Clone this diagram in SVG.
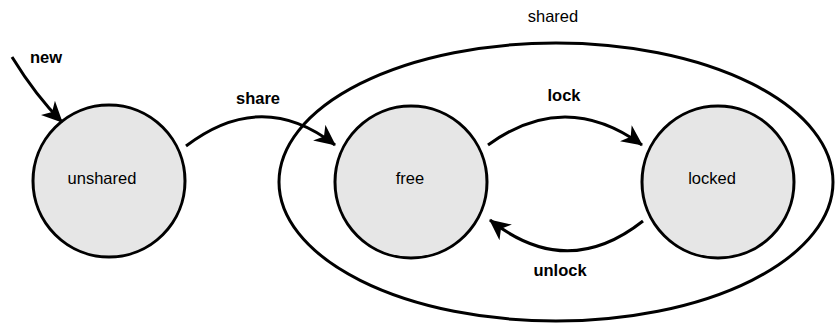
<svg xmlns="http://www.w3.org/2000/svg" width="836" height="323" viewBox="0 0 836 323">
<defs>
<style>
.state{fill:#e6e6e6;stroke:#000;stroke-width:3}
.region{fill:none;stroke:#000;stroke-width:3}
.edge{fill:none;stroke:#000;stroke-width:3;marker-end:url(#arrow)}
text{font-family:"Liberation Sans",Arial,sans-serif;font-size:16.5px;fill:#000;text-anchor:middle}
.lbl{font-weight:bold}
</style>
<marker id="arrow" markerUnits="userSpaceOnUse" markerWidth="22" markerHeight="20" viewBox="0 0 22 20" refX="20" refY="10" orient="auto">
<path d="M0,0 L21,10 L0,20 L6,10 Z" fill="#000"/>
</marker>
</defs>
<g id="shared">
<ellipse class="region" cx="556" cy="182" rx="277" ry="139"/>
<text x="553" y="22">shared</text>
</g>
<g id="unshared">
<circle class="state" cx="109" cy="181" r="76"/>
<text x="102" y="184">unshared</text>
</g>
<g id="free">
<circle class="state" cx="411" cy="182" r="76"/>
<text x="410" y="184">free</text>
</g>
<g id="locked">
<circle class="state" cx="718" cy="182" r="76"/>
<text x="712" y="184">locked</text>
</g>
<g id="connectors">
<path class="edge" d="M12,57 Q36,96 62,122"/>
<path class="edge" d="M186,146 Q262,88 335,145"/>
<path class="edge" d="M488,145 Q565,89 642,145"/>
<path class="edge" d="M643,221 Q567,281 490,220"/>
<text class="lbl" x="46" y="63">new</text>
<text class="lbl" x="258" y="104">share</text>
<text class="lbl" x="564" y="101">lock</text>
<text class="lbl" x="560" y="276">unlock</text>
</g>
</svg>
